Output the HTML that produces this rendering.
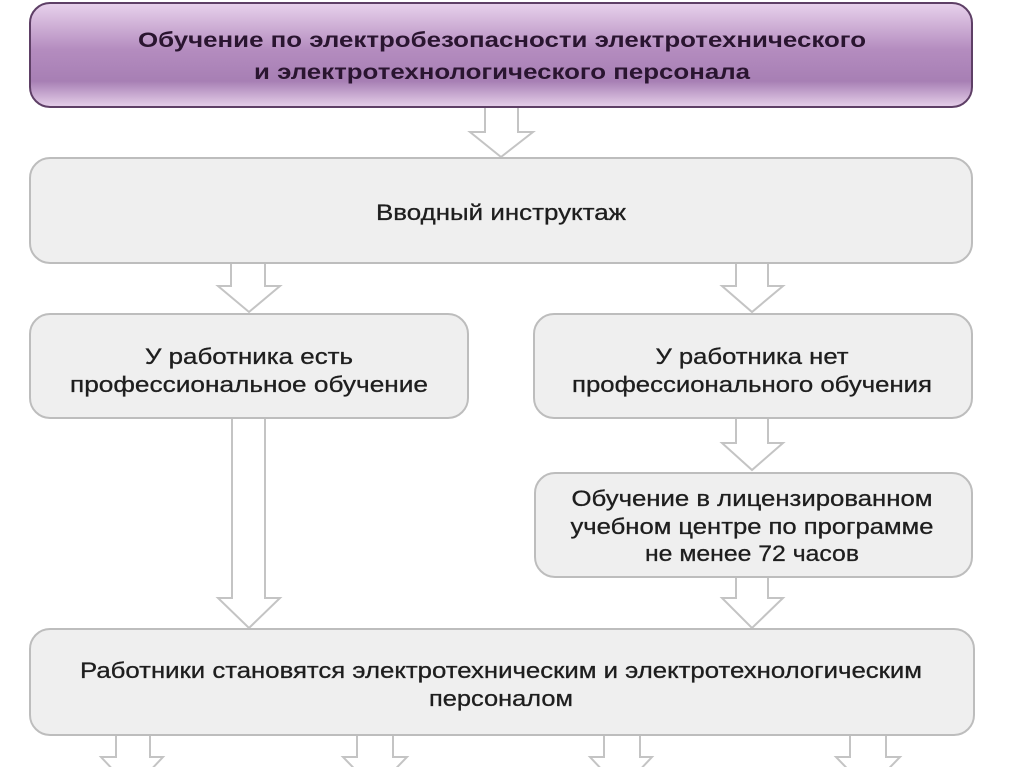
<!DOCTYPE html>
<html><head><meta charset="utf-8"><style>html,body{margin:0;padding:0;background:#fff}svg{display:block}</style></head>
<body>
<svg width="1024" height="767" viewBox="0 0 1024 767" xmlns="http://www.w3.org/2000/svg" font-family="'Liberation Sans', 'DejaVu Sans', sans-serif">
<defs>
<linearGradient id="pg" x1="0" y1="0" x2="0" y2="1">
<stop offset="0" stop-color="#e8d2ec"/><stop offset="0.45" stop-color="#b48cbf"/><stop offset="0.75" stop-color="#a77fb4"/><stop offset="1" stop-color="#e6d0ea"/>
</linearGradient>
</defs>
<g fill="#fff" stroke="#c4c4c4" stroke-width="2" stroke-linejoin="miter">
<path d="M485 107 V132 H470 L501 157 L533 132 H518 V107"/>
<path d="M231 263 V286 H218 L249 312 L280 286 H265 V263"/>
<path d="M736 263 V286 H722 L752 312 L783 286 H768 V263"/>
<path d="M232 418 V598 H218 L249 628 L280 598 H265 V418"/>
<path d="M736 418 V443 H722 L752 470 L783 443 H768 V418"/>
<path d="M736 577 V598 H722 L752 628 L783 598 H768 V577"/>
<path d="M116 735 V757 H101 L132 790 L163 757 H150 V735"/>
<path d="M357 735 V757 H343 L375 790 L407 757 H393 V735"/>
<path d="M604 735 V757 H590 L621 790 L652 757 H640 V735"/>
<path d="M850 735 V757 H836 L868 790 L900 757 H886 V735"/>
</g>
<rect x="30" y="3" width="942" height="104" rx="20" fill="url(#pg)" stroke="#5e3f66" stroke-width="2"/>
<g fill="#efefef" stroke="#bdbdbd" stroke-width="2">
<rect x="30" y="158" width="942" height="105" rx="20"/>
<rect x="30" y="314" width="438" height="104" rx="20"/>
<rect x="534" y="314" width="438" height="104" rx="20"/>
<rect x="535" y="473" width="437" height="104" rx="20"/>
<rect x="30" y="629" width="944" height="106" rx="20"/>
</g>
<g text-anchor="middle" fill="#1e1e1e" font-size="22" stroke="#1e1e1e" stroke-width="0.3">
<text x="502" y="47" font-weight="bold" fill="#2a1530" stroke="none" font-size="21" textLength="728" lengthAdjust="spacingAndGlyphs">Обучение по электробезопасности электротехнического</text>
<text x="502" y="79" font-weight="bold" fill="#2a1530" stroke="none" font-size="21" textLength="496" lengthAdjust="spacingAndGlyphs">и электротехнологического персонала</text>
<text x="501" y="220" textLength="250" lengthAdjust="spacingAndGlyphs">Вводный инструктаж</text>
<text x="249" y="364" textLength="208" lengthAdjust="spacingAndGlyphs">У работника есть</text>
<text x="249" y="392" textLength="358" lengthAdjust="spacingAndGlyphs">профессиональное обучение</text>
<text x="752" y="364" textLength="193" lengthAdjust="spacingAndGlyphs">У работника нет</text>
<text x="752" y="392" textLength="360" lengthAdjust="spacingAndGlyphs">профессионального обучения</text>
<text x="752" y="506" textLength="361" lengthAdjust="spacingAndGlyphs">Обучение в лицензированном</text>
<text x="752" y="534" textLength="363" lengthAdjust="spacingAndGlyphs">учебном центре по программе</text>
<text x="752" y="561" textLength="214" lengthAdjust="spacingAndGlyphs">не менее 72 часов</text>
<text x="501" y="678" textLength="842" lengthAdjust="spacingAndGlyphs">Работники становятся электротехническим и электротехнологическим</text>
<text x="501" y="706" textLength="144" lengthAdjust="spacingAndGlyphs">персоналом</text>
</g>
</svg>
</body></html>
